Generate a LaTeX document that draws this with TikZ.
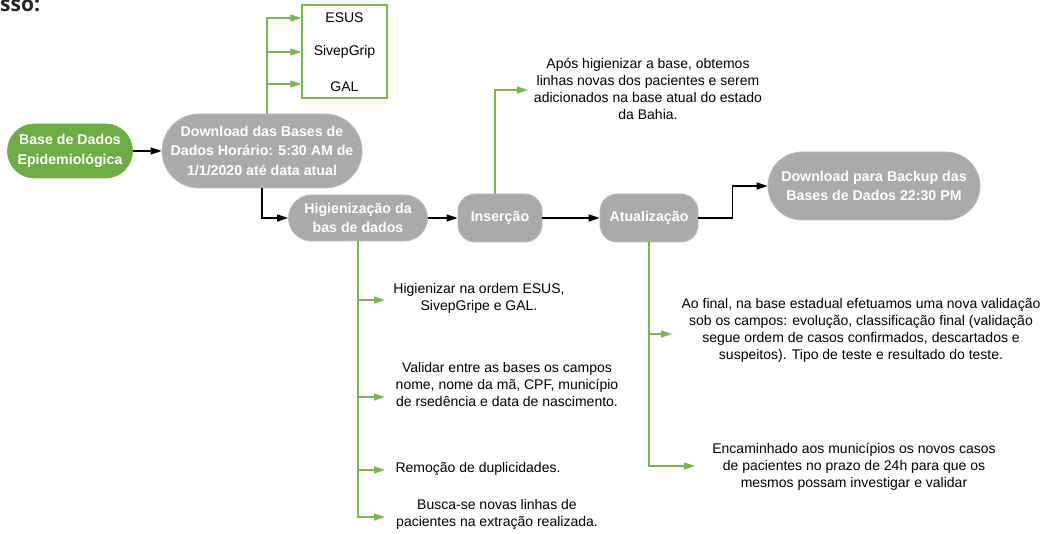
\documentclass[tikz,border=0pt]{standalone}
\usepackage{fontspec}
\setmainfont{Liberation Sans}
\newfontfamily\opensans{Open Sans}
\usetikzlibrary{arrows.meta}
\definecolor{lgreen}{HTML}{7AB648}
\definecolor{bgreen}{HTML}{6EAD45}
\definecolor{lgray}{HTML}{AAAAAA}
\tikzset{
  pill/.style={fill=lgray, draw=lgray!80!white, line width=0.8pt, text=white, font=\fontsize{14.2}{19.5}\selectfont\bfseries, align=center, inner sep=0pt},
  note/.style={font=\fontsize{14}{17}\selectfont, align=center, inner sep=0pt, text=black},
  garrow/.style={draw=lgreen, line width=1.2pt, -{Triangle[length=11pt,width=7pt]}},
  barrow/.style={draw=black, line width=1.4pt, -{Triangle[length=11pt,width=7pt]}},
}
\begin{document}
\begin{tikzpicture}[x=1pt,y=-1pt]
\useasboundingbox (0,0) rectangle (1055,534);
\node[anchor=base west, inner sep=0pt, font=\opensans\fontsize{21}{21}\selectfont\bfseries, text=black!85] (title) at (0,12) {sso:};

% main nodes
\node[pill, fill=bgreen, draw=bgreen, minimum width=125pt, minimum height=54pt, rounded corners=27pt] (base) at (70,151) {Base de Dados\\Epidemiológica};
\node[pill, minimum width=200pt, minimum height=74pt, rounded corners=37pt] (dl) at (262,151) {Download das Bases de\\Dados Horário: 5:30 AM de\\1/1/2020 até data atual};
\node[pill, minimum width=139pt, minimum height=46pt, rounded corners=23pt] (hig) at (358,218) {Higienização da\\bas de dados};
\node[pill, minimum width=84pt, minimum height=48pt, rounded corners=17pt] (ins) at (500,218) {Inserção};
\node[pill, minimum width=98pt, minimum height=48pt, rounded corners=17pt] (atu) at (649,218) {Atualização};
\node[pill, minimum width=212pt, minimum height=68pt, rounded corners=34pt] (bak) at (874,186) {Download para Backup das\\Bases de Dados 22:30 PM};

% sources box
\node[draw=lgreen, line width=1.2pt, minimum width=85pt, minimum height=93pt, inner sep=0pt] (box) at (344.5,51.5) {};
\node[note] (esus) at (344.5,18) {ESUS};
\node[note] (sivep) at (344.5,52) {SivepGrip};
\node[note] (gal) at (344.5,87) {GAL};

% notes
\node[note] (apos) at (648,88.5) {Após higienizar a base, obtemos\\linhas novas dos pacientes e serem\\adicionados na base atual do estado\\da Bahia.};
\node[note] (n1) at (479,298.5) {Higienizar na ordem ESUS,\\SivepGripe e GAL.};
\node[note] (n2) at (507,384) {Validar entre as bases os campos\\nome, nome da mã, CPF, município\\de rsedência e data de nascimento.};
\node[note] (n3) at (478,469) {Remoção de duplicidades.};
\node[note] (n4) at (497,514) {Busca-se novas linhas de\\pacientes na extração realizada.};
\node[note] (n5) at (861,330.5) {Ao final, na base estadual efetuamos uma nova validação\\sob os campos: evolução, classificação final (validação\\segue ordem de casos confirmados, descartados e\\suspeitos). Tipo de teste e resultado do teste.};
\node[note] (n6) at (854,466.5) {Encaminhado aos municípios os novos casos\\de pacientes no prazo de 24h para que os\\mesmos possam investigar e validar};

% arrow end coordinates
\coordinate (ca) at (528,90);
\coordinate (c1) at (385,300);
\coordinate (c2) at (385,397);
\coordinate (c3) at (385,470);
\coordinate (c4) at (385,517);
\coordinate (c5) at (672,334);
\coordinate (c6) at (695,466);

% black connectors
\draw[barrow] (base) -- (dl);
\draw[barrow] (dl.south) |- (hig.west);
\draw[barrow] (hig) -- (ins);
\draw[barrow] (ins) -- (atu);
\draw[barrow] (atu.east) -- ++(34,0) |- (bak.west);

% green connectors
\draw[garrow] ([xshift=5pt]dl.north) |- (box.west |- esus);
\draw[garrow] ([xshift=5pt]dl.north) |- (box.west |- sivep);
\draw[garrow] ([xshift=5pt]dl.north) |- ([yshift=3pt]box.west |- gal);
\draw[garrow] ([xshift=-5pt]ins.north) |- (ca);
\draw[garrow] (hig.south) |- (c1);
\draw[garrow] (hig.south) |- (c2);
\draw[garrow] (hig.south) |- (c3);
\draw[garrow] (hig.south) |- (c4);
\draw[garrow] (atu.south) |- (c5);
\draw[garrow] (atu.south) |- (c6);
\end{tikzpicture}
\end{document}
